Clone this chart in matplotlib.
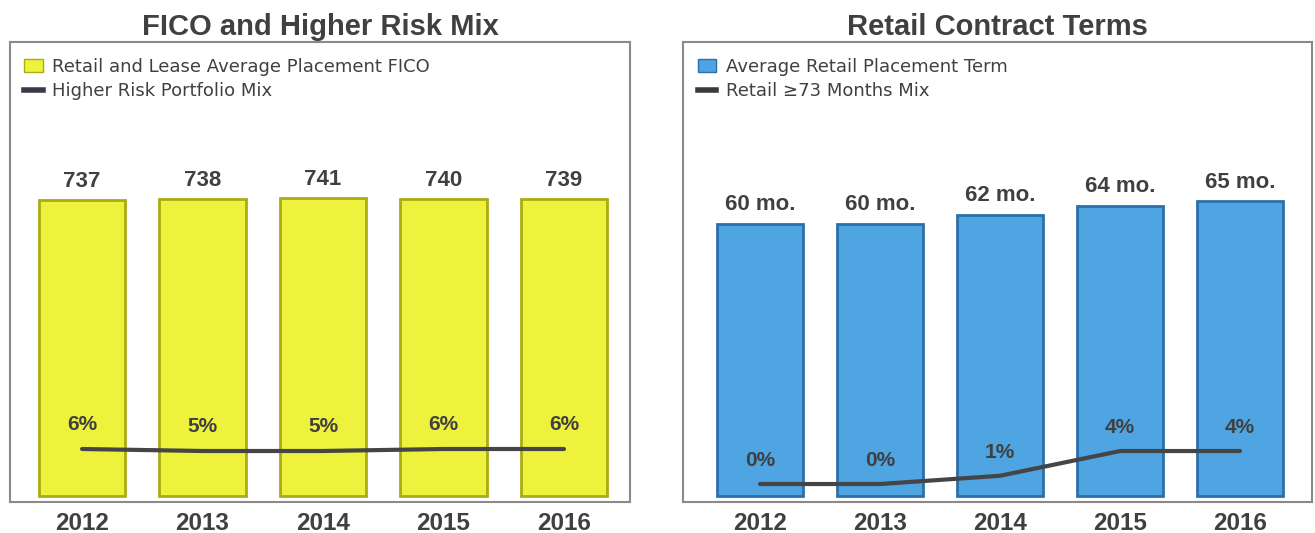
import matplotlib.pyplot as plt
from matplotlib.lines import Line2D
from matplotlib.patches import Patch

years = ['2012', '2013', '2014', '2015', '2016']

fico = [737, 738, 741, 740, 739]
risk_mix = [6, 5, 5, 6, 6]

term = [60, 60, 62, 64, 65]
long_mix = [0, 0, 1, 4, 4]

plt.rcParams['font.family'] = ['Liberation Sans', 'DejaVu Sans']
dark = '#404040'
linecol = '#454545'
leg_font = {'family': 'DejaVu Sans', 'size': 13}

yellow, yellow_edge = '#EEF23C', '#A9AC14'
blue, blue_edge = '#4EA5E2', '#2B70AA'

fig = plt.figure(figsize=(13.15, 5.33), dpi=100)

# left panel --------------------------------------------------------------
ax1 = fig.add_axes([10/1315, 31/533, 620/1315, 460/533])
x = range(len(years))
ax1.bar(x, fico, width=0.72, color=yellow, edgecolor=yellow_edge, linewidth=2, zorder=2)
ax1.set_xlim(-0.598, 4.548)
ax1.set_ylim(-14.9, 1130)
for i, v in enumerate(fico):
    ax1.annotate(str(v), (i, v), xytext=(0, 9.4), textcoords='offset points',
                 ha='center', va='baseline', fontsize=16, fontweight='bold', color=dark)

ax1b = ax1.twinx()
ax1b.plot(x, risk_mix, color=linecol, lw=3, solid_capstyle='round', zorder=3)
ax1b.set_ylim(-20.5, 209.5)
for i, v in enumerate(risk_mix):
    ax1b.annotate(f'{v}%', (i, v), xytext=(0, 13.5), textcoords='offset points',
                  ha='center', va='baseline', fontsize=15, fontweight='bold', color=dark)

ax1.set_title('FICO and Higher Risk Mix', fontsize=21, fontweight='bold', color=dark, pad=5)
h1 = [Patch(facecolor=yellow, edgecolor=yellow_edge),
      Line2D([], [], color='#3a3a4a', lw=4)]
ax1.legend(h1, ['Retail and Lease Average Placement FICO', 'Higher Risk Portfolio Mix'],
           loc='upper left', frameon=False, prop=leg_font, handlelength=1.05, handleheight=0.75,
           handletextpad=0.5, labelspacing=0.35, borderaxespad=0.3,
           labelcolor=dark, bbox_to_anchor=(0.003, 0.993))

# right panel -------------------------------------------------------------
ax2 = fig.add_axes([683/1315, 31/533, 629/1315, 460/533])
ax2.bar(x, term, width=0.72, color=blue, edgecolor=blue_edge, linewidth=2, zorder=2)
ax2.set_xlim(-0.642, 4.6)
ax2.set_ylim(-1.32, 100.2)
for i, v in enumerate(term):
    ax2.annotate(f'{v} mo.', (i, v), xytext=(0, 10), textcoords='offset points',
                 ha='center', va='baseline', fontsize=16, fontweight='bold', color=dark)

ax2b = ax2.twinx()
ax2b.plot(x, long_mix, color=linecol, lw=3, solid_capstyle='round', zorder=3)
ax2b.set_ylim(-2.18, 53.6)
for i, v in enumerate(long_mix):
    ax2b.annotate(f'{v}%', (i, v), xytext=(0, 13), textcoords='offset points',
                  ha='center', va='baseline', fontsize=15, fontweight='bold', color=dark)

ax2.set_title('Retail Contract Terms', fontsize=21, fontweight='bold', color=dark, pad=5)
h2 = [Patch(facecolor=blue, edgecolor=blue_edge),
      Line2D([], [], color='#3a3a3a', lw=4)]
ax2.legend(h2, ['Average Retail Placement Term', 'Retail \u226573 Months Mix'],
           loc='upper left', frameon=False, prop=leg_font, handlelength=1.05, handleheight=0.75,
           handletextpad=0.5, labelspacing=0.35, borderaxespad=0.3,
           labelcolor=dark, bbox_to_anchor=(0.003, 0.993))

for ax in (ax1, ax2):
    ax.set_xticks(list(x))
    ax.set_xticklabels(years, fontsize=17.5, fontweight='bold', color=dark)
    ax.tick_params(axis='x', length=0, pad=7)
    ax.set_yticks([])
    for s in ax.spines.values():
        s.set_color('#8a8a8a')
        s.set_linewidth(1.5)
for ax in (ax1b, ax2b):
    ax.set_yticks([])
    for s in ax.spines.values():
        s.set_visible(False)

fig.savefig('out.png', dpi=100)
